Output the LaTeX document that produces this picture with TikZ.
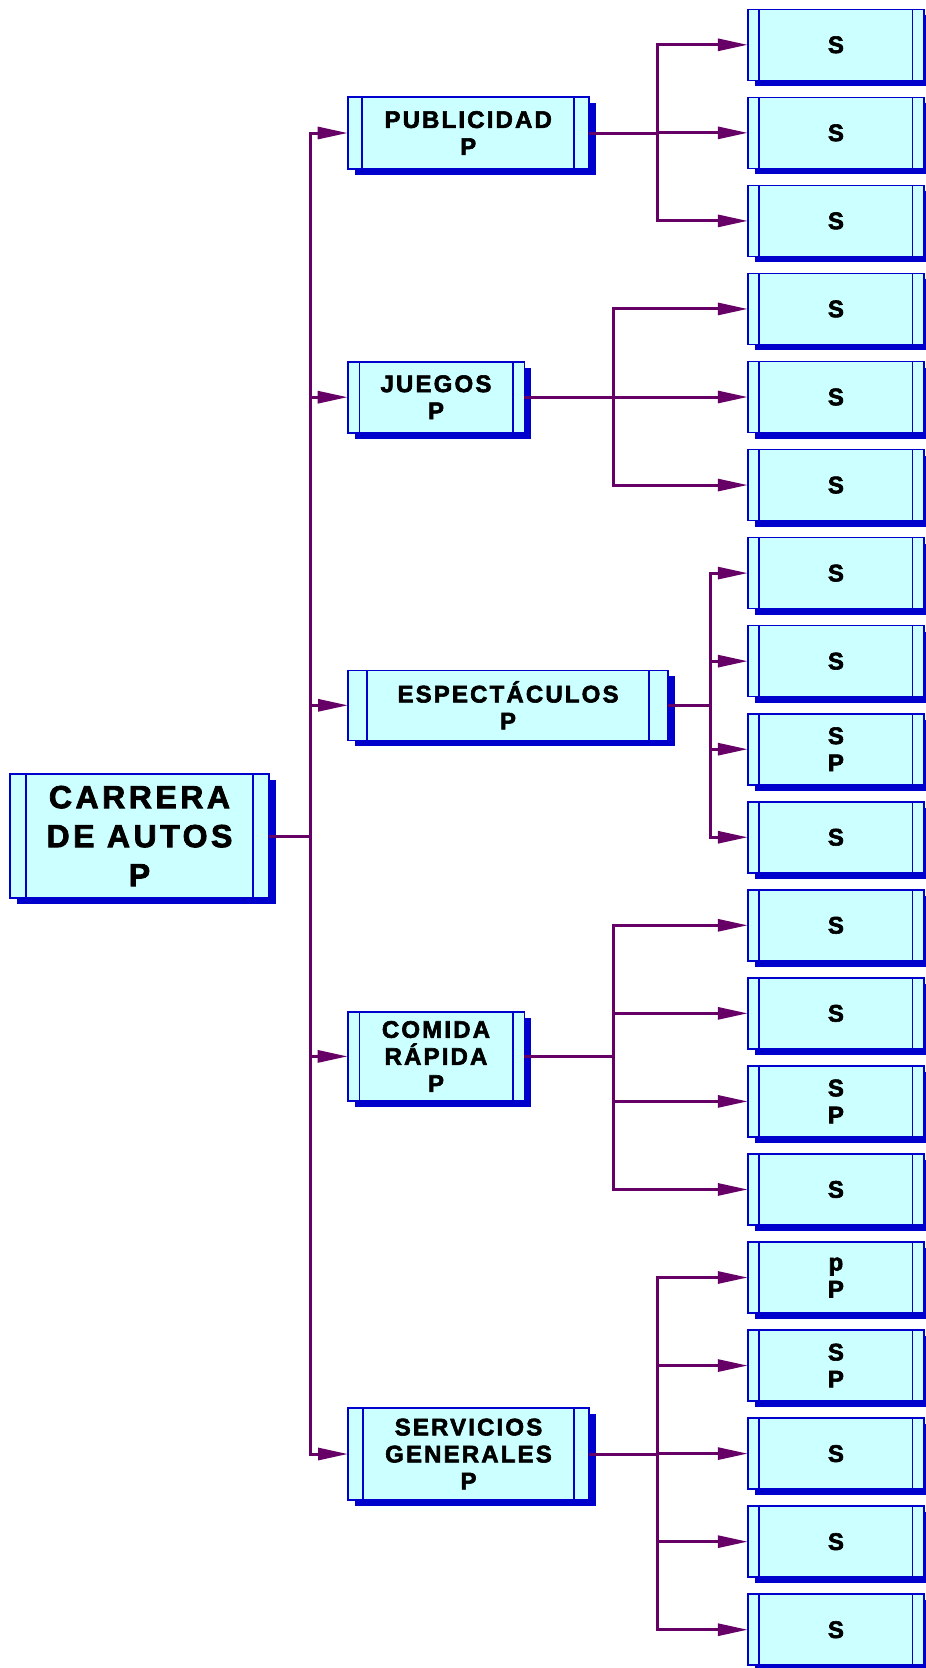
\documentclass[tikz,border=0pt]{standalone}
\usepackage{fontspec}
\setmainfont{Liberation Sans}[LetterSpace=9, BoldFeatures={FakeBold=2.5}]
\usetikzlibrary{arrows.meta,shadows}
\definecolor{bfill}{RGB}{204,255,255}
\definecolor{bline}{RGB}{0,0,204}
\definecolor{conn}{RGB}{102,0,102}
\newcommand\mkbox[8][]{%
  \node[bx,#1,minimum width=#5pt,minimum height=#6pt] (#2) at (#3,#4) {#8};
  \draw[bxl] ([xshift=#7pt]#2.north west) -- ([xshift=#7pt]#2.south west);
  \draw[bxl] ([xshift=-#7pt]#2.north east) -- ([xshift=-#7pt]#2.south east);
}
\begin{document}
\begin{tikzpicture}[x=1pt,y=-1pt,
  bx/.style={draw=bline, line width=1.6pt, fill=bfill, inner sep=0pt, outer sep=0pt,
    align=center, font=\fontsize{24}{27}\selectfont\bfseries,
    drop shadow={shadow xshift=7pt,shadow yshift=-6pt,fill=bline,opacity=1}},
  rootfont/.style={font=\fontsize{32}{39}\selectfont\bfseries\addfontfeature{LetterSpace=11}},
  bxl/.style={draw=bline, line width=1.6pt},
  arr/.style={draw=conn, line width=3pt, -{Triangle[length=30pt,width=12pt]}}]
\useasboundingbox (0,0) rectangle (926,1668);
% root
\mkbox[rootfont]{root}{139.5}{836}{259}{124}{16}{CARRERA\\DE AUTOS\\P}
% level 1
\mkbox{pub}{468.2}{133}{241}{72}{14.5}{PUBLICIDAD\\P}
\mkbox{jue}{436}{397.2}{176.6}{71}{11.6}{JUEGOS\\P}
\mkbox{esp}{508}{705.3}{320}{70}{19}{ESPECTÁCULOS\\P}
\mkbox{com}{436}{1056.4}{176.6}{89.3}{11.6}{COMIDA\\RÁPIDA\\P}
\mkbox{ser}{468.5}{1454}{241}{92}{15}{SERVICIOS\\GENERALES\\P}
% level 2
\mkbox{s0}{835.9}{44.8}{176.3}{71}{11.5}{S}
\mkbox{s1}{835.9}{132.85}{176.3}{71}{11.5}{S}
\mkbox{s2}{835.9}{220.9}{176.3}{71}{11.5}{S}
\mkbox{s3}{835.9}{308.95}{176.3}{71}{11.5}{S}
\mkbox{s4}{835.9}{397.0}{176.3}{71}{11.5}{S}
\mkbox{s5}{835.9}{485.05}{176.3}{71}{11.5}{S}
\mkbox{s6}{835.9}{573.1}{176.3}{71}{11.5}{S}
\mkbox{s7}{835.9}{661.15}{176.3}{71}{11.5}{S}
\mkbox{s8}{835.9}{749.2}{176.3}{71}{11.5}{S\\P}
\mkbox{s9}{835.9}{837.25}{176.3}{71}{11.5}{S}
\mkbox{s10}{835.9}{925.3}{176.3}{71}{11.5}{S}
\mkbox{s11}{835.9}{1013.35}{176.3}{71}{11.5}{S}
\mkbox{s12}{835.9}{1101.4}{176.3}{71}{11.5}{S\\P}
\mkbox{s13}{835.9}{1189.45}{176.3}{71}{11.5}{S}
\mkbox{s14}{835.9}{1277.5}{176.3}{71}{11.5}{p\\P}
\mkbox{s15}{835.9}{1365.55}{176.3}{71}{11.5}{S\\P}
\mkbox{s16}{835.9}{1453.6}{176.3}{71}{11.5}{S}
\mkbox{s17}{835.9}{1541.65}{176.3}{71}{11.5}{S}
\mkbox{s18}{835.9}{1629.7}{176.3}{71}{11.5}{S}
% trunk coordinates
\coordinate (tm) at (310,0);
\coordinate (tp) at (657,0);
\coordinate (tj) at (613,0);
\coordinate (te) at (710,0);
\coordinate (tc) at (613,0);
\coordinate (ts) at (657,0);
% connectors
\foreach \c in {pub,jue,esp,com,ser}
  \draw[arr] (root.east) -- (root.east -| tm) |- (\c.west);
\foreach \c in {s0,s1,s2}
  \draw[arr] (pub.east) -- (pub.east -| tp) |- (\c.west);
\foreach \c in {s3,s4,s5}
  \draw[arr] (jue.east) -- (jue.east -| tj) |- (\c.west);
\foreach \c in {s6,s7,s8,s9}
  \draw[arr] (esp.east) -- (esp.east -| te) |- (\c.west);
\foreach \c in {s10,s11,s12,s13}
  \draw[arr] (com.east) -- (com.east -| tc) |- (\c.west);
\foreach \c in {s14,s15,s16,s17,s18}
  \draw[arr] (ser.east) -- (ser.east -| ts) |- (\c.west);
\end{tikzpicture}
\end{document}
